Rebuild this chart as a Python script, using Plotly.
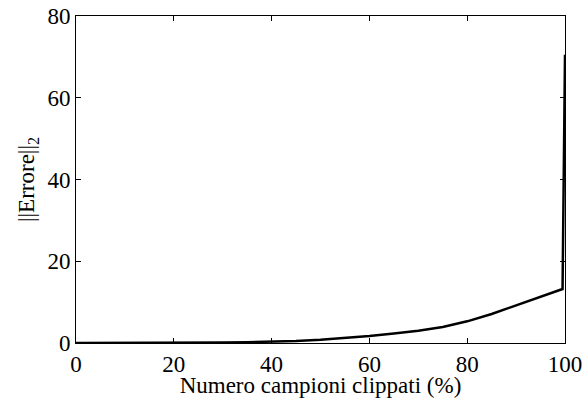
import plotly.graph_objects as go

x_pct = [0, 5, 10, 15, 20, 25, 30, 35, 40, 45, 50, 55, 60, 65, 70, 75, 80, 85, 90, 95, 99.5, 100]
err = [0.0, 0.0, 0.01, 0.03, 0.05, 0.08, 0.12, 0.2, 0.3, 0.5, 0.8, 1.2, 1.7, 2.3, 3.0,
       3.9, 5.3, 7.1, 9.2, 11.3, 13.2, 70.5]

x_ticks = [0, 20, 40, 60, 80, 100]
y_ticks = [0, 20, 40, 60, 80]

fig = go.Figure()
fig.add_trace(go.Scatter(x=x_pct, y=err, mode="lines",
                         line=dict(color="black", width=2.5),
                         showlegend=False))

tick_font = dict(family="'Liberation Serif', 'DejaVu Serif', serif", size=23, color="black")
title_font = dict(family="'Liberation Serif', 'DejaVu Serif', serif", size=23, color="black")
axis_common = dict(showgrid=False, zeroline=False, showline=True, linecolor="black",
                   linewidth=1, mirror="ticks", ticks="inside", ticklen=5,
                   tickcolor="black", tickfont=tick_font, automargin=False)

fig.update_layout(
    width=586, height=398,
    margin=dict(l=76, r=21, t=16, b=55),
    plot_bgcolor="white", paper_bgcolor="white",
    font=tick_font,
    xaxis=dict(range=[0, 100], tickvals=x_ticks, ticktext=[str(v) for v in x_ticks],
               title=dict(text="Numero campioni clippati (%)", font=title_font, standoff=0),
               **axis_common),
    yaxis=dict(range=[0, 80], tickvals=y_ticks, ticktext=[str(v) for v in y_ticks],
               title=dict(text="||Errore||<sub>2</sub>", font=title_font, standoff=6),
               **axis_common),
)
fig.write_html("out.html")
